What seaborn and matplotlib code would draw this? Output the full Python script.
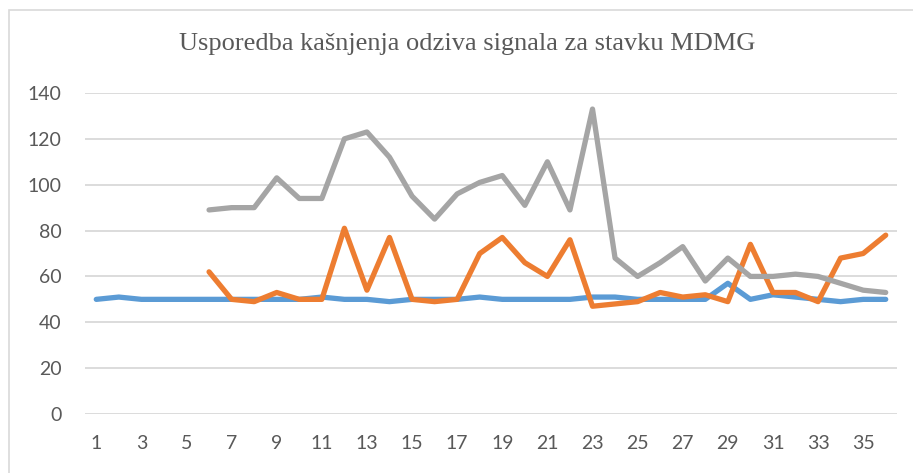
import numpy as np
import pandas as pd
import matplotlib.pyplot as plt
import seaborn as sns
from matplotlib.patches import Rectangle

x = list(range(1, 37))
blue = [50, 51, 50, 50, 50, 50, 50, 50, 50, 50, 51, 50, 50, 49, 50, 50, 50, 51,
        50, 50, 50, 50, 51, 51, 50, 50, 50, 50, 57, 50, 52, 51, 50, 49, 50, 50]
orange = [np.nan] * 5 + [62, 50, 49, 53, 50, 50, 81, 54, 77, 50, 49, 50, 70,
                         77, 66, 60, 76, 47, 48, 49, 53, 51, 52, 49, 74, 53, 53, 49, 68, 70, 78]
gray = [np.nan] * 5 + [89, 90, 90, 103, 94, 94, 120, 123, 112, 95, 85, 96, 101,
                       104, 91, 110, 89, 133, 68, 60, 66, 73, 58, 68, 60, 60, 61, 60, 57, 54, 53]
x_ticks = list(range(1, 37, 2))
y_ticks = list(range(0, 141, 20))

sns.set_style("white")
plt.rcParams['font.family'] = ['Lato', 'DejaVu Sans']

fig = plt.figure(figsize=(9.13, 4.73), dpi=100)
W, H = 913, 473
ax = fig.add_axes([85 / W, 1 - 414 / H, (897 - 85) / W, (414 - 93) / H])

for vals, col in [(blue, "#5B9BD5"), (orange, "#ED7D31"), (gray, "#A5A5A5")]:
    df = pd.DataFrame({"x": x, "y": vals}).dropna()
    sns.lineplot(data=df, x="x", y="y", color=col, linewidth=3.8, ax=ax,
                 clip_on=False, solid_joinstyle="round", solid_capstyle="round")

ax.set_xlim(0.5, 36.5)
ax.set_ylim(0, 140)
ax.set_xticks(x_ticks)
ax.set_yticks(y_ticks)
ax.set_xlabel("")
ax.set_ylabel("")
for s in ax.spines.values():
    s.set_visible(False)
ax.grid(axis="y", color="#D9D9D9", linewidth=1.3)
ax.set_axisbelow(True)
ax.tick_params(axis="both", length=0, labelsize=14, colors="#595959")
ax.tick_params(axis="x", pad=15)
ax.tick_params(axis="y", pad=17)

fig.text(0.512, 1 - 44 / H, "Usporedba kašnjenja odziva signala za stavku MDMG",
         family="Liberation Serif", fontsize=19, color="#595959",
         ha="center", va="center")

fig.patches.append(Rectangle((9 / W, -0.1), 1.2, (H - 10) / H + 0.1,
                             transform=fig.transFigure, fill=False,
                             edgecolor="#D9D9D9", linewidth=1.2))

fig.savefig("out.png", dpi=100)
